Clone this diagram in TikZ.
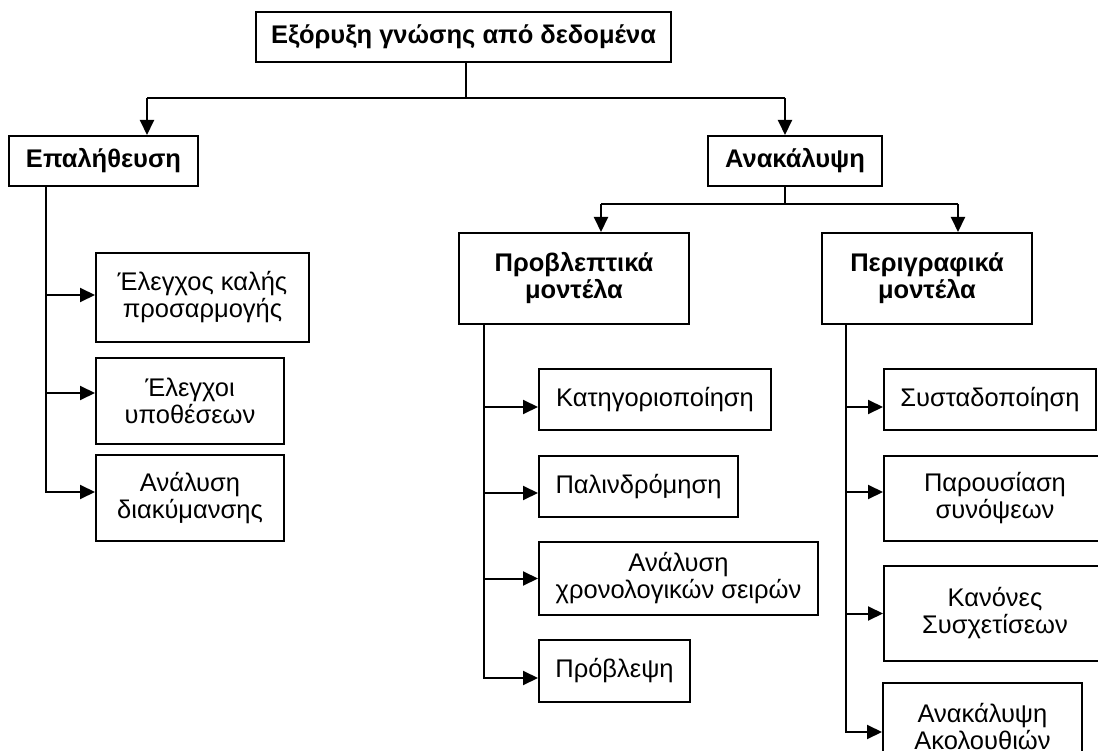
\documentclass[tikz,border=0pt]{standalone}
\usepackage{fontspec}
\setmainfont{Liberation Sans}
\usetikzlibrary{arrows.meta}
\begin{document}
\begin{tikzpicture}[x=1pt,y=-1pt,
  box/.style={draw, line width=2pt, align=center, inner sep=0pt,
    font=\fontsize{25.5}{27}\selectfont},
  hbox/.style={box, font=\fontsize{25.5}{27}\selectfont\bfseries},
  link/.style={line width=2pt},
  arr/.style={link, -{Triangle[length=15pt,width=14pt]}}]
\useasboundingbox (0,0) rectangle (1098,751);
\clip (0,0) rectangle (1098,751);

% top level
\node[hbox, minimum width=415pt, minimum height=50pt] (top) at (463.5,37) {Εξόρυξη γνώσης από δεδομένα};

% second level
\node[hbox, minimum width=189pt, minimum height=50pt] (ver) at (103.5,161) {Επαλήθευση};
\node[hbox, minimum width=174pt, minimum height=50pt] (dis) at (795,161) {Ανακάλυψη};

% verification branch
\node[box, minimum width=213pt, minimum height=89pt] (e1) at (202.5,297.5) {Έλεγχος καλής\\προσαρμογής};
\node[box, minimum width=188pt, minimum height=86pt] (e2) at (190,401) {Έλεγχοι\\υποθέσεων};
\node[box, minimum width=188pt, minimum height=86pt] (e3) at (190,498) {Ανάλυση\\διακύμανσης};

% discovery branch
\node[hbox, minimum width=230pt, minimum height=91pt] (pred) at (574,278.5) {Προβλεπτικά\\μοντέλα};
\node[hbox, minimum width=210pt, minimum height=91pt] (desc) at (927,278.5) {Περιγραφικά\\μοντέλα};

% predictive models
\node[box, minimum width=232pt, minimum height=61pt] (p1) at (655,399.5) {Κατηγοριοποίηση};
\node[box, minimum width=199pt, minimum height=61pt] (p2) at (638.5,486.5) {Παλινδρόμηση};
\node[box, minimum width=279pt, minimum height=73pt] (p3) at (678.5,578.5) {Ανάλυση\\χρονολογικών σειρών};
\node[box, minimum width=151pt, minimum height=62pt] (p4) at (614.5,671) {Πρόβλεψη};

% descriptive models
\node[box, minimum width=212pt, minimum height=61pt] (d1) at (990,399.5) {Συσταδοποίηση};
\node[box, minimum width=222pt, minimum height=85pt] (d2) at (995,498.5) {Παρουσίαση\\συνόψεων};
\node[box, minimum width=222pt, minimum height=95pt] (d3) at (995,613.5) {Κανόνες\\Συσχετίσεων};
\node[box, minimum width=199pt, minimum height=88pt] (d4) at (982.5,727) {Ανακάλυψη\\Ακολουθιών};

% bus below the top box
\coordinate (bus) at (466,98);
\coordinate (aV) at (147,98);
\coordinate (aD) at (785,98);
\draw[link] (top.south -| bus) -- (bus);
\draw[link] (aV) -- (aD);
\draw[arr] (aV) -- (aV |- ver.north);
\draw[arr] (aD) -- (aD |- dis.north);

% bus below the discovery box
\coordinate (bus2) at (785,204);
\coordinate (aP) at (601,204);
\coordinate (aS) at (958,204);
\draw[link] (dis.south -| bus2) -- (bus2);
\draw[link] (aP) -- (aS);
\draw[arr] (aP) -- (aP |- pred.north);
\draw[arr] (aS) -- (aS |- desc.north);

% verification trunk
\coordinate (tV) at (46,0);
\draw[arr] (ver.south -| tV) |- ([yshift=6pt]e3.west);
\draw[arr] ([yshift=2.5pt]e1.west -| tV) -- ([yshift=2.5pt]e1.west);
\draw[arr] ([yshift=8pt]e2.west -| tV) -- ([yshift=8pt]e2.west);

% predictive trunk
\coordinate (tP) at (484,0);
\draw[arr] (pred.south -| tP) |- ([yshift=-7pt]p4.west);
\draw[arr] ([yshift=-7.5pt]p1.west -| tP) -- ([yshift=-7.5pt]p1.west);
\draw[arr] ([yshift=-6.5pt]p2.west -| tP) -- ([yshift=-6.5pt]p2.west);
\draw[arr] (p3.west -| tP) -- (p3.west);

% descriptive trunk
\coordinate (tS) at (846,0);
\draw[arr] (desc.south -| tS) |- ([yshift=-5pt]d4.west);
\draw[arr] ([yshift=-7.5pt]d1.west -| tS) -- ([yshift=-7.5pt]d1.west);
\draw[arr] ([yshift=6.5pt]d2.west -| tS) -- ([yshift=6.5pt]d2.west);
\draw[arr] (d3.west -| tS) -- (d3.west);
\end{tikzpicture}
\end{document}
